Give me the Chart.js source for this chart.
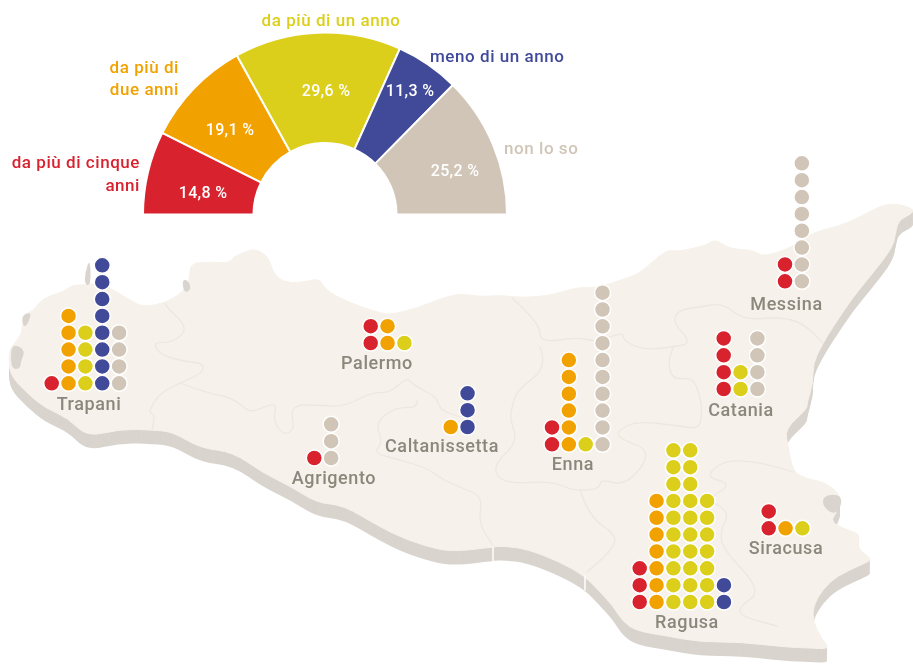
<!DOCTYPE html>
<html lang="it">
<head>
<meta charset="utf-8">
<title>Da quanto tempo</title>
<script src="https://cdn.jsdelivr.net/npm/chart.js@4"></script>
<style>
html,body{margin:0;padding:0;background:#fff;overflow:hidden}
#wrap{position:relative;width:913px;height:669px}
canvas{position:absolute;left:0;top:0}
</style>
</head>
<body>
<div id="wrap"><canvas id="map" width="913" height="669"></canvas><canvas id="gauge" width="913" height="669"></canvas></div>
<script>
// ---- data ----
const categories = ['da più di cinque anni','da più di due anni','da più di un anno','meno di un anno','non lo so'];
const shares = [14.8,19.1,29.6,11.3,25.2];
const provinces = ['Trapani','Palermo','Agrigento','Caltanissetta','Enna','Messina','Catania','Ragusa','Siracusa'];
const dotsRed    = [1,2,1,0,2,2,4,3,2];
const dotsOrange = [5,2,0,1,6,0,0,7,1];
const dotsYellow = [4,1,0,0,1,0,2,27,1];
const dotsBlue   = [8,0,0,3,0,0,0,2,0];
const dotsBeige  = [4,0,3,0,10,8,4,0,0];

// ---- layout and style ----
const colors = ['#D8232F','#F2A200','#DCCF1B','#404A99','#D0C5B7'];
const LAND='#F6F2EB', SHADE='#D9D4CE', BORDER='#ECE8E0', NAME='#8B877C';
const FONT='Roboto, "Noto Sans", sans-serif';
const PITCH=16.85, MAX_ROWS=10;
const anchors = [[51.7,383.3],[370.7,343],[314.3,458],[450.7,427],[552,444.3],[785,281.3],[723.7,389],[639.7,602],[768.7,528.3]];
const namePos = [[89,404],[377,363],[334,478],[442,446],[573,464],[786.5,304],[741,410],[687,622],[786,548]];
const sharePos = [[203,193],[230,130],[326,91],[410,91],[455,171]];
const legendText = [
  {lines:['da più di cinque','anni'],x:140,y:163,align:'right',lh:23},
  {lines:['da più di','due anni'],x:179,y:68,align:'right',lh:22},
  {lines:['da più di un anno'],x:331,y:21,align:'center',lh:22},
  {lines:['meno di un anno'],x:430,y:57,align:'left',lh:22},
  {lines:['non lo so'],x:504,y:149,align:'left',lh:22}
];
const coastline = [[10,375],[9,357],[10,348],[20,337],[23,327],[22,315],[32,312],[43,298],[63,292],[72,285],[85,285],[100,283],[110,288],[130,300],[143,307],[165,303],[182,293],[190,280],[190,263],[210,262],[230,263],[233,257],[243,253],[253,249],[262,252],[270,260],[273,273],[283,282],[300,283],[320,278],[325,290],[350,303],[377,312],[390,315],[417,308],[437,300],[460,293],[480,297],[500,295],[523,298],[553,295],[577,287],[597,288],[627,278],[640,273],[667,249],[677,252],[707,245],[715,239],[730,249],[753,250],[763,257],[793,247],[813,232],[837,227],[860,217],[888,202],[913,208],[913,213],[899,220],[896,230],[893,247],[873,273],[853,297],[833,327],[823,343],[813,363],[813,383],[807,403],[807,409],[785,429],[788,446],[793,472],[807,479],[825,482],[842,496],[837,512],[830,522],[850,531],[860,534],[857,549],[873,559],[863,564],[837,576],[823,589],[813,606],[813,622],[822,639],[830,649],[810,648],[785,647],[740,642],[700,642],[667,636],[637,631],[623,622],[613,606],[600,592],[585,576],[560,562],[527,549],[503,546],[493,547],[460,551],[440,550],[407,540],[380,527],[343,505],[317,503],[290,486],[263,473],[233,452],[200,448],[173,432],[153,430],[120,429],[87,437],[68,418],[45,408],[27,393]];
const boundaries = [
 [[165,303],[167,308],[183,322],[185,333],[170,343],[153,342],[160,355],[187,362],[203,363],[203,373],[180,383],[160,393],[148,412],[155,415],[152,430]],
 [[180,383],[207,393],[233,398],[250,413],[263,407],[277,403],[273,420],[283,435],[295,430],[290,405],[320,405],[343,407],[373,392],[390,393],[407,377],[413,385],[437,397],[440,410],[460,417]],
 [[417,400],[418,408],[397,407],[375,422],[383,443],[373,453],[400,460],[427,468],[443,480],[460,487],[483,497],[478,522],[493,546]],
 [[512,298],[540,323],[540,343],[577,337],[597,342],[623,332],[623,340],[643,350],[673,347],[692,343],[673,323],[678,310],[700,307],[723,303],[743,320],[780,317],[803,323],[823,343]],
 [[540,347],[548,367],[517,390],[512,407],[510,419],[518,442],[492,466],[503,484],[553,481],[573,491],[600,489],[600,479],[627,486],[653,451],[620,439],[617,431],[637,421],[680,426],[700,429],[702,409],[700,397],[693,377],[673,380],[668,363],[673,347]],
 [[793,472],[737,454],[702,476],[733,484],[707,499],[730,512],[720,532],[723,549],[762,591],[740,606],[740,616],[777,626]],
 [[580,489],[588,516],[618,536],[610,552],[587,572]]
];
const shoreDetails = [
 [[85,285],[85,273],[90,258],[91,285]],
 [[182,279],[189,281],[191,290],[184,293]],
 [[22,315],[32,312],[27,326],[23,326]],
 [[11,347],[17,345],[25,351],[21,361],[20,369],[11,369]],
 [[823,497],[833,494],[842,497],[840,510],[832,514],[823,506]]
];
const seams = [[[493,547],[493,561]],[[585,576],[585,590]]];

// ---- map chart: every dot comes from the counts through the scales ----
const seriesCounts = [dotsRed,dotsOrange,dotsYellow,dotsBlue,dotsBeige];
function buildDots(){
  const out = categories.map(()=>[]);
  provinces.forEach((_,p)=>{
    let col = 0;
    seriesCounts.forEach((series,s)=>{
      let left = series[p];
      while(left>0){
        const h = Math.min(left,MAX_ROWS);
        for(let r=0;r<h;r++) out[s].push({x:anchors[p][0]+col*PITCH,y:anchors[p][1]-r*PITCH});
        left -= h; col++;
      }
    });
  });
  return out;
}
const dots = buildDots();

// Rounded path through the traced vertices (midpoint quadratic smoothing).
function tracePath(ctx,pts,xs,ys,dy,close){
  const P=pts.map(q=>[xs.getPixelForValue(q[0]),ys.getPixelForValue(q[1]+dy)]);
  const mid=(a,b)=>[(a[0]+b[0])/2,(a[1]+b[1])/2];
  ctx.beginPath();
  if(close){
    const s=mid(P[P.length-1],P[0]);
    ctx.moveTo(s[0],s[1]);
    P.forEach((p,i)=>{const m=mid(p,P[(i+1)%P.length]);ctx.quadraticCurveTo(p[0],p[1],m[0],m[1]);});
    ctx.closePath();
  }else{
    ctx.moveTo(P[0][0],P[0][1]);
    for(let i=1;i<P.length-1;i++){const m=mid(P[i],P[i+1]);ctx.quadraticCurveTo(P[i][0],P[i][1],m[0],m[1]);}
    ctx.lineTo(P[P.length-1][0],P[P.length-1][1]);
  }
}
function putText(ctx,t,x,y,font,color,align,spacing){
  ctx.font=font;ctx.fillStyle=color;ctx.textAlign=align;ctx.textBaseline='middle';
  ctx.letterSpacing=spacing||'0px';
  ctx.fillText(t,x,y);
}
const mapPlugin = {
  id:'sicily',
  beforeDatasetsDraw(chart){
    const {ctx,scales:{x,y}}=chart;
    ctx.save();ctx.lineJoin='round';ctx.lineCap='round';
    ctx.fillStyle=SHADE;
    for(let d=14;d>=1;d--){tracePath(ctx,coastline,x,y,d,true);ctx.fill();}
    ctx.fillStyle=LAND;ctx.strokeStyle=LAND;ctx.lineWidth=1;
    tracePath(ctx,coastline,x,y,0,true);ctx.fill();ctx.stroke();
    ctx.strokeStyle='#fff';ctx.lineWidth=1.5;
    seams.forEach(s=>{tracePath(ctx,s,x,y,0,false);ctx.stroke();});
    ctx.fillStyle=SHADE;
    shoreDetails.forEach(s=>{tracePath(ctx,s,x,y,0,true);ctx.fill();});
    ctx.strokeStyle=BORDER;ctx.lineWidth=1.3;
    boundaries.forEach(b=>{tracePath(ctx,b,x,y,0,false);ctx.stroke();});
    ctx.restore();
  },
  afterDatasetsDraw(chart){
    const {ctx,scales:{x,y}}=chart;
    ctx.save();
    provinces.forEach((n,i)=>putText(ctx,n,x.getPixelForValue(namePos[i][0]),y.getPixelForValue(namePos[i][1]+1),'500 18px '+FONT,NAME,'center','0.6px'));
    ctx.restore();
  }
};
new Chart(document.getElementById('map'),{
  type:'scatter',
  data:{datasets:categories.map((c,i)=>({label:c,data:dots[i],backgroundColor:colors[i],borderColor:'#fff',borderWidth:1.5,pointRadius:8,pointHoverRadius:8}))},
  options:{
    responsive:false,animation:false,
    layout:{padding:0,autoPadding:false},
    plugins:{legend:{display:false},tooltip:{enabled:false}},
    scales:{
      x:{type:'linear',min:0,max:913,display:false},
      y:{type:'linear',min:0,max:669,reverse:true,display:false}
    }
  },
  plugins:[mapPlugin]
});

// ---- half doughnut ----
const gaugeLabels = {
  id:'gaugeLabels',
  afterDatasetsDraw(chart){
    const ctx=chart.ctx;
    ctx.save();
    shares.forEach((v,i)=>putText(ctx,v.toFixed(1).replace('.',',')+' %',sharePos[i][0],sharePos[i][1]+1,'500 16px '+FONT,'#fff','center','0.3px'));
    legendText.forEach((l,i)=>l.lines.forEach((t,k)=>putText(ctx,t,l.x,l.y+1+k*l.lh,'500 17px '+FONT,colors[i],l.align,'0.55px')));
    ctx.restore();
  }
};
new Chart(document.getElementById('gauge'),{
  type:'doughnut',
  data:{labels:categories,datasets:[{data:shares,backgroundColor:colors,borderColor:'#fff',borderWidth:2,hoverOffset:0}]},
  options:{
    responsive:false,animation:false,
    rotation:-90,circumference:180,cutout:'39.3%',
    layout:{padding:{left:142,right:405,top:31,bottom:453}},
    plugins:{legend:{display:false},tooltip:{enabled:false}}
  },
  plugins:[gaugeLabels]
});
</script>
</body>
</html>
